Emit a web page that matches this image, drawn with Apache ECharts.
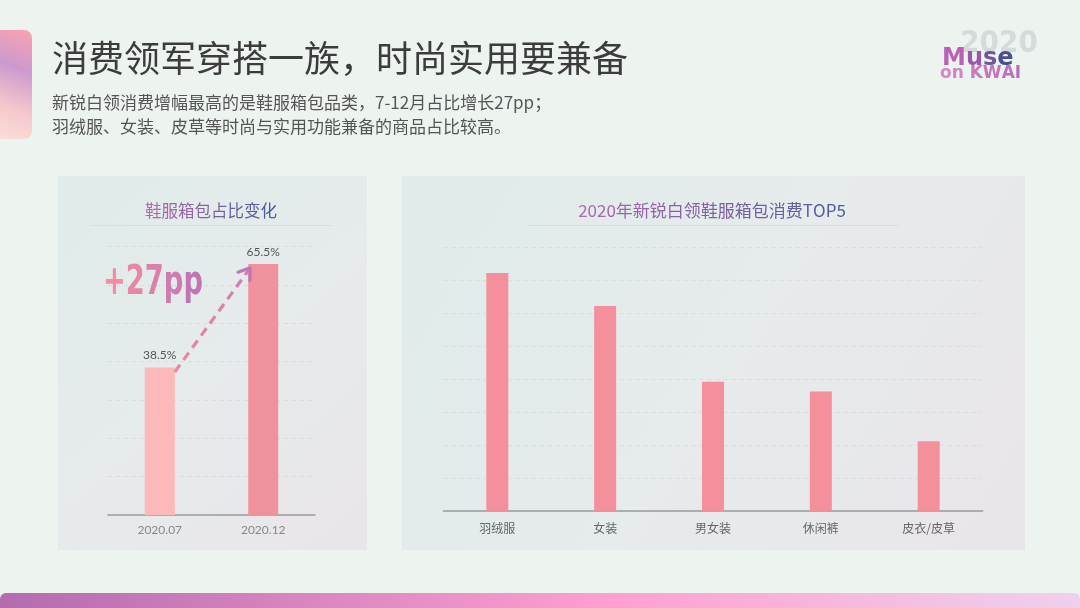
<!DOCTYPE html>
<html>
<head>
<meta charset="utf-8">
<script src="https://cdn.jsdelivr.net/npm/echarts@6/dist/echarts.min.js"></script>
<style>
html,body{margin:0;padding:0;background:#edf3ef;}
#c{width:1080px;height:608px;}
</style>
</head>
<body>
<div id="c"></div>
<script>
// ---- data ----
const leftCategories = ['2020.07', '2020.12'];
const leftValues = [38.5, 65.5];
const rightCategories = ['羽绒服', '女装', '男女装', '休闲裤', '皮衣/皮草'];
const rightValues = [72.1, 62.1, 39.2, 36.2, 21.1];

const CJK = '"Noto Sans CJK SC", "Noto Sans", sans-serif';
const chart = echarts.init(document.getElementById('c'), null, {renderer: 'canvas'});

function lg(x, y, x2, y2, stops) {
  return new echarts.graphic.LinearGradient(x, y, x2, y2, stops.map((c) => ({offset: c[0], color: c[1]})));
}
function hex2rgb(h) { h = h.replace('#', ''); return [0, 2, 4].map(i => parseInt(h.substr(i, 2), 16)); }
function mix(c1, c2, t) {
  const a = hex2rgb(c1), b = hex2rgb(c2);
  return 'rgb(' + a.map((v, i) => Math.round(v + (b[i] - v) * t)).join(',') + ')';
}
// text whose colour runs from c1 to c2 character by character
function gradText(str, c1, c2, font, extra) {
  const chars = Array.from(str);
  const rich = {};
  let text = '';
  chars.forEach((ch, i) => {
    const t = chars.length > 1 ? i / (chars.length - 1) : 0;
    rich['c' + i] = Object.assign({fill: mix(c1, c2, t), font: font}, extra || {});
    text += '{c' + i + '|' + ch + '}';
  });
  return {text: text, rich: rich};
}

const panelFill = () => lg(0, 0, 1, 1, [[0, '#dfecea'], [0.5, '#e6ebeb'], [1, '#e9e5ea']]);

const t1 = gradText('鞋服箱包占比变化', '#b468ac', '#4b5c9c', '16.5px ' + CJK);
const t2 = gradText('2020年新锐白领鞋服箱包消费TOP5', '#b468ac', '#4b5c9c', '17px ' + CJK);
const tPP = gradText('+27pp', '#f58ca2', '#c274b4', 'bold 41px "DejaVu Sans Condensed", sans-serif');
const tMuse = gradText('Muse', '#bb60b8', '#4a4f8f', 'bold 24px "DejaVu Sans", sans-serif');
const tKwai = gradText('on KWAI', '#d788c8', '#b86cba', 'bold 17px "DejaVu Sans", sans-serif');

const graphics = [
  // left decoration block
  {type: 'rect', shape: {x: -8, y: 30, width: 40, height: 109, r: 8}, z: 0,
   style: {fill: lg(1, 0, 0, 1, [[0, '#fba2b2'], [0.35, '#cc9acd'], [0.7, '#f6c8cc'], [1, '#fbe0d8']])}},
  // bottom gradient bar
  {type: 'rect', shape: {x: 0, y: 593, width: 1080, height: 25, r: 6}, z: 0,
   style: {fill: lg(0, 0, 1, 0, [[0, '#b46bb0'], [0.57, '#ffa0d0'], [1, '#efd0ec']])}},
  // panels
  {type: 'rect', shape: {x: 58, y: 176, width: 309, height: 374}, z: 0, style: {fill: panelFill()}},
  {type: 'rect', shape: {x: 402, y: 176, width: 623, height: 374}, z: 0, style: {fill: panelFill()}},
  // main title
  {type: 'text', x: 52, y: 58, z: 5,
   style: {text: '消费领军穿搭一族，时尚实用要兼备', font: '36px ' + CJK, fill: '#3c3c3c', textVerticalAlign: 'middle'}},
  {type: 'text', x: 52, y: 103, z: 5,
   style: {text: '新锐白领消费增幅最高的是鞋服箱包品类，7-12月占比增长27pp；', font: '17px ' + CJK, fill: '#555555', textVerticalAlign: 'middle'}},
  {type: 'text', x: 52, y: 127, z: 5,
   style: {text: '羽绒服、女装、皮草等时尚与实用功能兼备的商品占比较高。', font: '17px ' + CJK, fill: '#555555', textVerticalAlign: 'middle'}},
  // logo
  {type: 'text', x: 999, y: 44, z: 5,
   style: {text: '2020', font: 'bold 31px "DejaVu Sans Condensed", sans-serif', fill: '#d6dadb', textAlign: 'center', textVerticalAlign: 'middle'}},
  {type: 'text', x: 942, y: 59, z: 6,
   style: Object.assign({textVerticalAlign: 'middle'}, tMuse)},
  {type: 'text', x: 940, y: 74, z: 6,
   style: Object.assign({textVerticalAlign: 'middle'}, tKwai)},
  // panel titles
  {type: 'text', x: 211, y: 211, z: 5,
   style: Object.assign({textAlign: 'center', textVerticalAlign: 'middle'}, t1)},
  {type: 'line', shape: {x1: 90, y1: 225.5, x2: 332, y2: 225.5}, z: 5, style: {stroke: '#d5dfec', lineWidth: 1}},
  {type: 'text', x: 712, y: 211, z: 5,
   style: Object.assign({textAlign: 'center', textVerticalAlign: 'middle'}, t2)},
  {type: 'line', shape: {x1: 527, y1: 225.5, x2: 898, y2: 225.5}, z: 5, style: {stroke: '#d5dfec', lineWidth: 1}},
  // +27pp
  {type: 'text', x: 103, y: 283, z: 6, scaleX: 0.74, originX: 0, originY: 0,
   style: Object.assign({textVerticalAlign: 'middle'}, tPP)}
];

const option = {
  backgroundColor: '#edf3ef',
  animation: false,
  graphic: graphics,
  grid: [
    {left: 108, right: 765, top: 246.7, bottom: 93},
    {left: 443.4, right: 97.4, top: 247, bottom: 97}
  ],
  xAxis: [
    {type: 'category', gridIndex: 0, data: leftCategories,
     axisLine: {lineStyle: {color: '#9a9a9a', width: 1.5}}, axisTick: {show: false},
     axisLabel: {color: '#888', fontSize: 12, margin: 9, fontFamily: 'Lato, sans-serif'}},
    {type: 'category', gridIndex: 1, data: rightCategories,
     axisLine: {lineStyle: {color: '#9a9a9a', width: 1.5}}, axisTick: {show: false},
     axisLabel: {color: '#666', fontSize: 12, margin: 11, fontFamily: CJK}}
  ],
  yAxis: [
    {type: 'value', gridIndex: 0, min: 0, max: 70, interval: 10,
     axisLine: {show: false}, axisTick: {show: false}, axisLabel: {show: false},
     splitLine: {lineStyle: {color: '#d9dcdc', type: [4, 4]}}},
    {type: 'value', gridIndex: 1, min: 0, max: 80, interval: 10,
     axisLine: {show: false}, axisTick: {show: false}, axisLabel: {show: false},
     splitLine: {lineStyle: {color: '#d9dcdc', type: [4, 4]}}}
  ],
  series: [
    {type: 'bar', xAxisIndex: 0, yAxisIndex: 0, barWidth: 30, z: 3,
     data: leftValues.map((v, i) => ({value: v, itemStyle: {color: i === 0 ? '#fdb9ba' : '#f0929d'}})),
     label: {show: true, position: 'top', distance: 6, color: '#555', fontSize: 12, fontFamily: 'Lato, sans-serif',
             formatter: p => p.value + '%'}},
    {type: 'bar', xAxisIndex: 1, yAxisIndex: 1, barWidth: 22, z: 3,
     itemStyle: {color: '#f4909c'}, data: rightValues}
  ]
};
chart.setOption(option);

// dashed arrow between the two left bars, positioned from the data via the axes
const p0 = chart.convertToPixel({gridIndex: 0}, [0, leftValues[0] - 1.2]);
const p1 = chart.convertToPixel({gridIndex: 0}, [1, leftValues[1] - 1]);
const sx = p0[0] + 15, sy = p0[1];
const ex = p1[0] - 13, ey = p1[1];
const ang = Math.atan2(ey - sy, ex - sx);
const L = 13, spread = 0.6;
const a1 = [ex - L * Math.cos(ang - spread), ey - L * Math.sin(ang - spread)];
const a2 = [ex - L * Math.cos(ang + spread), ey - L * Math.sin(ang + spread)];
graphics.push(
  {type: 'line', z: 6, shape: {x1: sx, y1: sy, x2: ex - 2 * Math.cos(ang), y2: ey - 2 * Math.sin(ang)},
   style: {stroke: lg(0, 1, 1, 0, [[0, '#ec88a2'], [1, '#cf7cb2']]), lineWidth: 3.2, lineDash: [9, 6]}},
  {type: 'polyline', z: 6, shape: {points: [a1, [ex, ey], a2]},
   style: {stroke: '#c375b5', lineWidth: 3.2, fill: null, lineCap: 'round', lineJoin: 'round'}}
);
chart.setOption({graphic: graphics});
</script>
</body>
</html>
